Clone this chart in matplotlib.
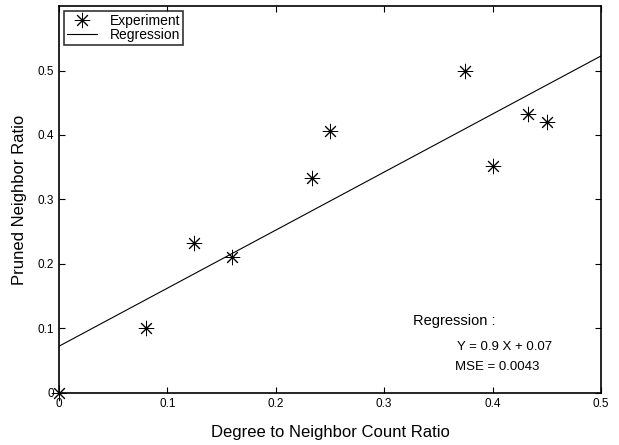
import numpy as np
import matplotlib
matplotlib.use('Agg')
import matplotlib.pyplot as plt

plt.rcParams['font.family'] = ['Liberation Sans', 'DejaVu Sans']

# measured points
ratio_x = [0.0, 0.08, 0.125, 0.16, 0.233, 0.25, 0.375, 0.4, 0.433, 0.45]
pruned_y = [0.0, 0.1, 0.233, 0.211, 0.333, 0.406, 0.5, 0.352, 0.433, 0.42]

# regression line endpoints
reg_x = [0.0, 0.5]
slope = 0.9
intercept = 0.0725

xticks = [0, 0.1, 0.2, 0.3, 0.4, 0.5]
xticklabels = ['0', '0.1', '0.2', '0.3', '0.4', '0.5']
yticks = [0, 0.1, 0.2, 0.3, 0.4, 0.5]
yticklabels = ['0', '0.1', '0.2', '0.3', '0.4', '0.5']

fig = plt.figure(figsize=(6.19, 4.45), dpi=100)
ax = fig.add_axes([0.0953, 0.1169, 0.8755, 0.8696])

ax.plot(ratio_x, pruned_y, linestyle='none', marker=(8, 2, 0), markersize=11,
        markeredgewidth=0.7, color='black', clip_on=False, label='Experiment')
reg_y = [slope * v + intercept for v in reg_x]
ax.plot(reg_x, reg_y, color='black', linewidth=0.8, label='Regression')

ax.set_xlim(0, 0.5)
ax.set_ylim(0, 0.6)
ax.set_xticks(xticks)
ax.set_xticklabels(xticklabels)
ax.set_yticks(yticks)
ax.set_yticklabels(yticklabels)
ax.tick_params(direction='in', top=True, right=True, labelsize=8.5, length=4, width=0.8)
for s in ax.spines.values():
    s.set_linewidth(1.2)

ax.set_xlabel('Degree to Neighbor Count Ratio', fontsize=12, labelpad=11)
ax.set_ylabel('Pruned Neighbor Ratio', fontsize=12, labelpad=8)

leg = ax.legend(loc='upper left', fontsize=10, frameon=True, fancybox=False,
                edgecolor='black', borderpad=0.2, handlelength=2.2,
                labelspacing=0.05, borderaxespad=0.35, handletextpad=0.9)
leg.get_frame().set_linewidth(1.2)

ax.text(0.327, 0.112, 'Regression :', fontsize=10.5, va='center')
ax.text(0.367, 0.0716, 'Y = 0.9 X + 0.07', fontsize=9.5, va='center')
ax.text(0.365, 0.040, 'MSE = 0.0043', fontsize=9.5, va='center')

fig.savefig('out.png', dpi=100)
